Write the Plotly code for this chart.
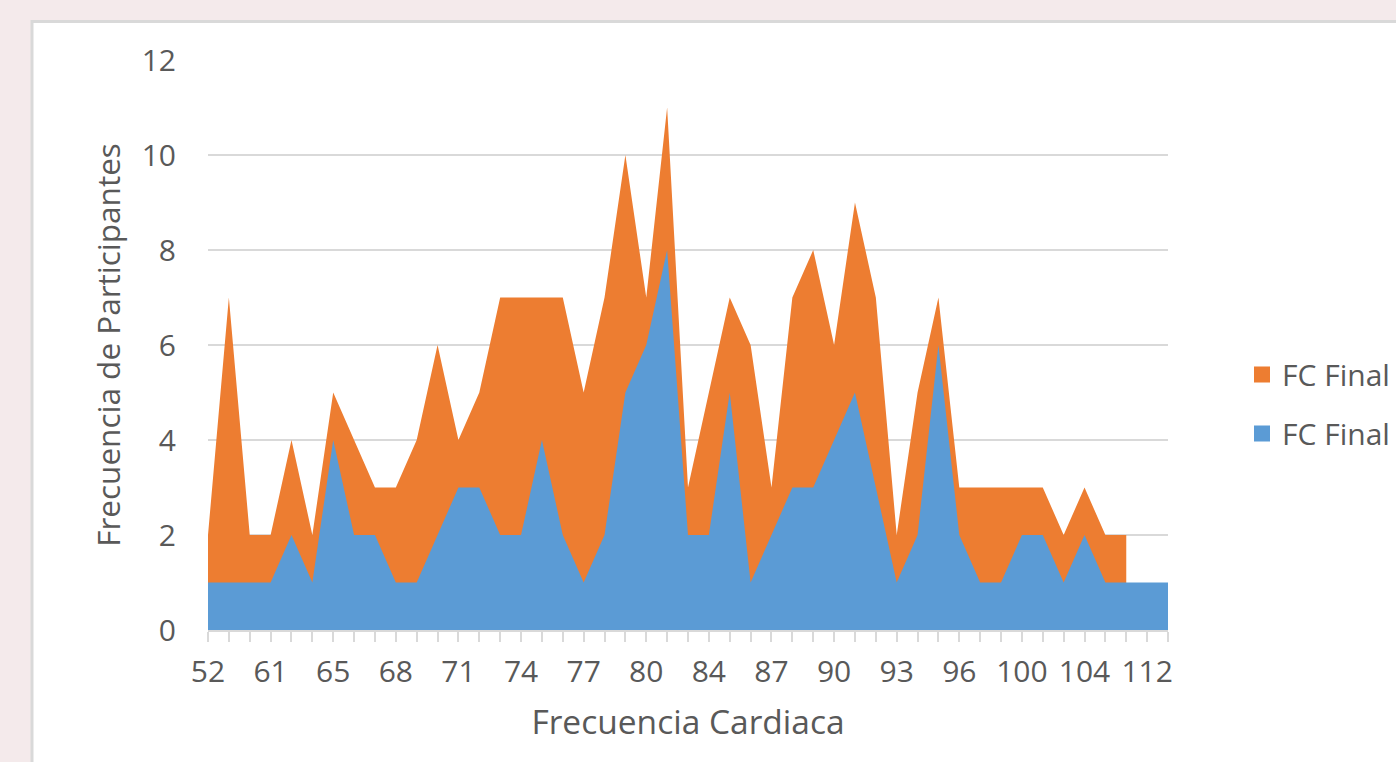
import plotly.graph_objects as go

# Heart-rate categories (x axis) and participant counts per series
categories = ["52", "55", "58", "61", "62", "64", "65", "66", "67", "68", "69", "70",
              "71", "72", "73", "74", "75", "76", "77", "78", "79", "80", "81", "83",
              "84", "85", "86", "87", "88", "89", "90", "91", "92", "93", "94", "95",
              "96", "97", "98", "100", "101", "102", "104", "105", "108", "112", "115"]

fc_final_orange = [2, 7, 2, 2, 4, 2, 5, 4, 3, 3, 4, 6, 4, 5, 7, 7, 7, 7, 5, 7,
                   10, 7, 11, 3, 5, 7, 6, 3, 7, 8, 6, 9, 7, 2, 5, 7, 3, 3, 3, 3,
                   3, 2, 3, 2, 2]

fc_final_blue = [1, 1, 1, 1, 2, 1, 4, 2, 2, 1, 1, 2, 3, 3, 2, 2, 4, 2, 1, 2,
                 5, 6, 8, 2, 2, 5, 1, 2, 3, 3, 4, 5, 3, 1, 2, 6, 2, 1, 1, 2,
                 2, 1, 2, 1, 1, 1, 1]

tick_labels = ["52", "61", "65", "68", "71", "74", "77", "80", "84", "87", "90",
               "93", "96", "100", "104", "112"]

y_ticks = [0, 2, 4, 6, 8, 10, 12]

ORANGE = "#ED7D31"
BLUE = "#5B9BD5"
TEXT = "#595959"
GRID = "#D9D9D9"
PINK = "#F4EAEB"
FONT = "Open Sans"

fig = go.Figure()

# orange series (behind)
fig.add_trace(go.Scatter(
    x=categories[:len(fc_final_orange)], y=fc_final_orange,
    mode="lines", fill="tozeroy", fillcolor=ORANGE,
    line=dict(width=0, color=ORANGE), showlegend=False, name="FC Final",
))
# blue series (front)
fig.add_trace(go.Scatter(
    x=categories, y=fc_final_blue,
    mode="lines", fill="tozeroy", fillcolor=BLUE,
    line=dict(width=0, color=BLUE), showlegend=False, name="FC Final",
))

# legend entries with square keys
fig.add_trace(go.Scatter(
    x=[None], y=[None], mode="markers", name="FC Final", legendgroup="a",
    marker=dict(symbol="square", size=18, color=ORANGE),
))
fig.add_trace(go.Scatter(
    x=[None], y=[None], mode="markers", name="FC Final", legendgroup="b",
    marker=dict(symbol="square", size=18, color=BLUE),
))

ticktext = [c if c in tick_labels and i % 3 == 0 else "" for i, c in enumerate(categories)]

# chart-area white box with grey border
fig.add_shape(type="rect", xref="paper", yref="paper",
              x0=(32 - 208) / 960, x1=(1420 - 208) / 960,
              y0=(630 - 800) / 570, y1=(630 - 21.5) / 570,
              fillcolor="white", line=dict(color="#D9D9D9", width=3), layer="below")

fig.update_layout(
    width=1396, height=762,
    margin=dict(l=208, r=228, t=60, b=132, autoexpand=False),
    paper_bgcolor=PINK,
    plot_bgcolor="rgba(0,0,0,0)",
    font=dict(family=FONT, size=30, color=TEXT),
    legend=dict(
        x=(1242 - 208) / 960, xanchor="left",
        y=(630 - 404) / 570, yanchor="middle",
        traceorder="grouped", tracegroupgap=17,
        font=dict(family=FONT, size=30, color=TEXT),
        bgcolor="rgba(0,0,0,0)",
    ),
    xaxis=dict(
        type="category",
        range=[0, len(categories) - 1],
        tickmode="array", tickvals=categories, ticktext=ticktext,
        ticks="outside", ticklen=10, tickwidth=2, tickcolor=GRID,
        ticklabelstandoff=4,
        showline=True, linecolor=GRID, linewidth=2,
        showgrid=False, zeroline=False,
        tickfont=dict(family=FONT, size=30, color=TEXT),
        title=dict(text="Frecuencia Cardiaca", standoff=21,
                   font=dict(family=FONT, size=33.5, color=TEXT)),
    ),
    yaxis=dict(
        range=[0, 12],
        tickmode="array", tickvals=y_ticks,
        showgrid=True, gridcolor=GRID, gridwidth=2,
        zeroline=False, showline=False, ticks="",
        ticklabelstandoff=31,
        tickfont=dict(family=FONT, size=30, color=TEXT),
        title=dict(text="Frecuencia de Participantes", standoff=11,
                   font=dict(family=FONT, size=31.5, color=TEXT)),
    ),
)

fig.write_html(
    "out.html",
    config={"displayModeBar": False},
    post_script="document.body.style.margin='0';document.body.style.background='" + PINK + "';",
)
